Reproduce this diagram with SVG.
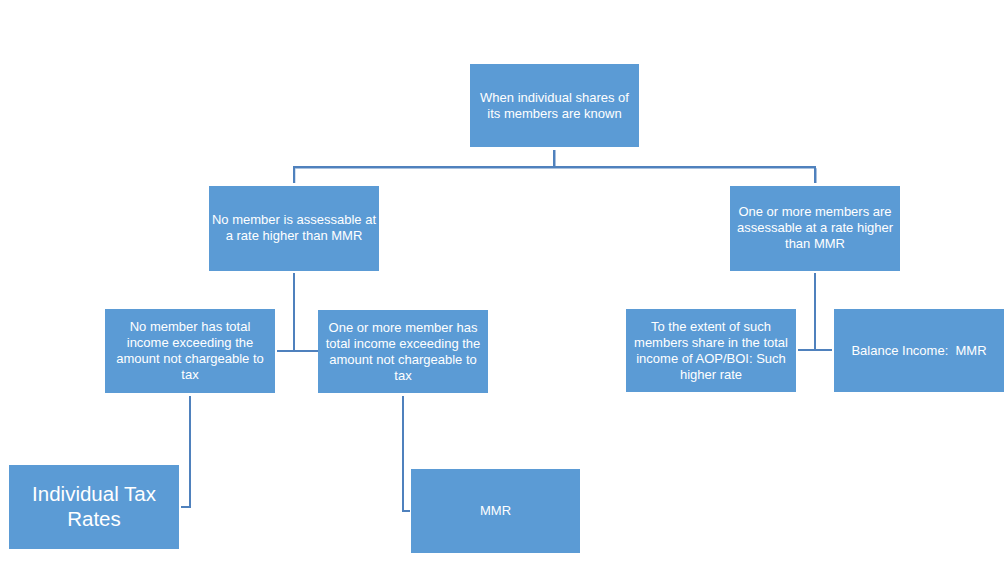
<svg xmlns="http://www.w3.org/2000/svg" width="1006" height="579" viewBox="0 0 1006 579">
<style>
.box{fill:#5b9bd5;}
.t{font-family:"Liberation Sans",Arial,sans-serif;font-size:13px;fill:#ffffff;text-anchor:middle;}
.big{font-size:20.5px;}
.ln{fill:none;stroke:#4f81bd;stroke-width:2;}
.sh{fill:none;stroke:#a9c1df;stroke-width:1;}
</style>
<rect width="1006" height="579" fill="#ffffff"/>
<g id="connectors">
<path class="sh" d="M555.5 150V168.5M295 183V168.5H816.5V183"/>
<path class="ln" d="M554 150V167M294 183V167H815V183"/>
<path class="ln" d="M294 273V351M277 351H318"/>
<path class="ln" d="M815 273V350M798 350H832"/>
<path class="ln" d="M190 396V507H181"/>
<path class="ln" d="M403 396V511H410"/>
</g>
<g id="root"><rect class="box" x="470" y="64" width="169" height="83"/>
<text class="t" x="554.5" y="102">When individual shares of</text>
<text class="t" x="554.5" y="118">its members are known</text></g>
<g id="no-member-higher"><rect class="box" x="209" y="186" width="170" height="85"/>
<text class="t" x="294" y="224">No member is assessable at</text>
<text class="t" x="294" y="240">a rate higher than MMR</text></g>
<g id="some-members-higher"><rect class="box" x="730" y="186" width="170" height="85"/>
<text class="t" x="815" y="216">One or more members are</text>
<text class="t" x="815" y="232">assessable at a rate higher</text>
<text class="t" x="815" y="248">than MMR</text></g>
<g id="no-member-exceeding"><rect class="box" x="105" y="309" width="170" height="84"/>
<text class="t" x="190" y="331">No member has total</text>
<text class="t" x="190" y="347">income exceeding the</text>
<text class="t" x="190" y="363">amount not chargeable to</text>
<text class="t" x="190" y="379">tax</text></g>
<g id="some-member-exceeding"><rect class="box" x="318" y="310" width="170" height="83"/>
<text class="t" x="403" y="332">One or more member has</text>
<text class="t" x="403" y="348">total income exceeding the</text>
<text class="t" x="403" y="364">amount not chargeable to</text>
<text class="t" x="403" y="380">tax</text></g>
<g id="extent-higher-rate"><rect class="box" x="626" y="309" width="170" height="83"/>
<text class="t" x="711" y="331">To the extent of such</text>
<text class="t" x="711" y="347">members share in the total</text>
<text class="t" x="711" y="363">income of AOP/BOI: Such</text>
<text class="t" x="711" y="379">higher rate</text></g>
<g id="balance-income"><rect class="box" x="834" y="309" width="170" height="83"/>
<text class="t" x="919" y="355" xml:space="preserve">Balance Income:  MMR</text></g>
<g id="individual-tax-rates"><rect class="box" x="9" y="465" width="170" height="84"/>
<text class="t big" x="94" y="501">Individual Tax</text>
<text class="t big" x="94" y="526">Rates</text></g>
<g id="mmr"><rect class="box" x="411" y="469" width="169" height="84"/>
<text class="t" x="495.5" y="515">MMR</text></g>
</svg>
